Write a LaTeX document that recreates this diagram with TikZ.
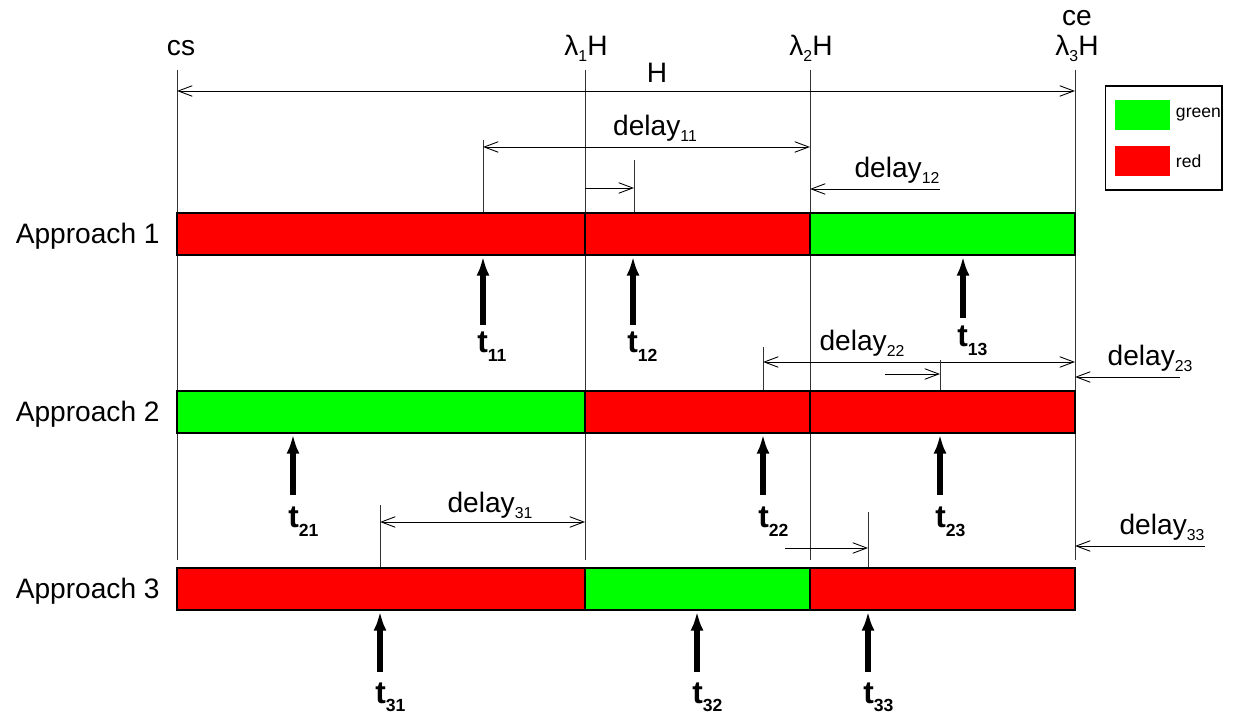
\documentclass[tikz,border=0pt]{standalone}
\usepackage{fontspec}
\setmainfont{Liberation Sans}
\usetikzlibrary{arrows.meta}

\newcommand\lo[1]{\raisebox{-0.22em}{\fontsize{9}{9}\selectfont #1}}
\newcommand\tlo[1]{\raisebox{-0.28em}{\fontsize{10}{10}\selectfont #1}}

\tikzset{
    seg/.style={draw, line width=1.6pt, minimum height=0.84cm, inner sep=0pt},
    guide/.style={line width=0.5pt, black!80},
    dim/.style={line width=0.5pt},
    barb/.tip={Straight Barb[length=8pt, width=6pt]},
    tarrow/.style={line width=3pt, -{Latex[length=11pt, width=7.5pt]}},
    lbl/.style={font=\fontsize{16}{18}\selectfont, inner sep=0pt},
    tlbl/.style={font=\fontsize{18}{20}\selectfont\bfseries, inner sep=0pt, anchor=base west},
    keylbl/.style={font=\fontsize{10}{12}\selectfont, anchor=west, inner sep=0pt},
}

\begin{document}
\begin{tikzpicture}[x=0.02cm, y=-0.02cm]
        \useasboundingbox (0,0) rectangle (1257,715);

        % time marks
        \coordinate (cs) at (177,70);
        \coordinate (l1) at (585,70);
        \coordinate (l2) at (810,70);
        \coordinate (ce) at (1075,70);
        \draw[guide] (cs) -- (cs |- 0,560);
        \draw[guide] (l1) -- (l1 |- 0,560);
        \draw[guide] (l2) -- (l2 |- 0,560);
        \draw[guide] (ce) -- (ce |- 0,560);

        \node[lbl] (cslbl) at (181,48) {cs};
        \node[lbl] (l1lbl) at (586,48) {λ\lo{1}H};
        \node[lbl] (l2lbl) at (811,48) {λ\lo{2}H};
        \node[lbl] (l3lbl) at (1077,48) {λ\lo{3}H};
        \node[lbl] (celbl) at (1077,18) {ce};

        % signal phases
        \node[seg, fill=red, minimum width=8.16cm] (a1s1) at (381,234) {};
        \node[seg, fill=red, minimum width=4.5cm] (a1s2) at (697.5,234) {};
        \node[seg, fill=green, minimum width=5.3cm] (a1s3) at (942.5,234) {};
        \node[seg, fill=green, minimum width=8.16cm] (a2s1) at (381,412) {};
        \node[seg, fill=red, minimum width=4.5cm] (a2s2) at (697.5,412) {};
        \node[seg, fill=red, minimum width=5.3cm] (a2s3) at (942.5,412) {};
        \node[seg, fill=red, minimum width=8.16cm] (a3s1) at (381,589) {};
        \node[seg, fill=green, minimum width=4.5cm] (a3s2) at (697.5,589) {};
        \node[seg, fill=red, minimum width=5.3cm] (a3s3) at (942.5,589) {};

        \node[lbl, anchor=east] (ap1) at (160,236) {Approach 1};
        \node[lbl, anchor=east] (ap2) at (160,414) {Approach 2};
        \node[lbl, anchor=east] (ap3) at (160,591) {Approach 3};

        % arrivals
        \coordinate (t11) at (483,325);
        \coordinate (t12) at (633,325);
        \coordinate (t13) at (963,318);
        \coordinate (t21) at (293,495);
        \coordinate (t22) at (763,495);
        \coordinate (t23) at (940,495);
        \coordinate (t31) at (380,672);
        \coordinate (t32) at (697,672);
        \coordinate (t33) at (868,672);
        \draw[tarrow] (t11) -- (t11 |- a1s1.south);
        \draw[tarrow] (t12) -- (t12 |- a1s2.south);
        \draw[tarrow] (t13) -- (t13 |- a1s3.south);
        \draw[tarrow] (t21) -- (t21 |- a2s1.south);
        \draw[tarrow] (t22) -- (t22 |- a2s2.south);
        \draw[tarrow] (t23) -- (t23 |- a2s3.south);
        \draw[tarrow] (t31) -- (t31 |- a3s1.south);
        \draw[tarrow] (t32) -- (t32 |- a3s2.south);
        \draw[tarrow] (t33) -- (t33 |- a3s3.south);

        \node[tlbl] (t11lbl) at (477,353) {t\tlo{11}};
        \node[tlbl] (t12lbl) at (627,353) {t\tlo{12}};
        \node[tlbl] (t13lbl) at (957,347) {t\tlo{13}};
        \node[tlbl] (t21lbl) at (288,528) {t\tlo{21}};
        \node[tlbl] (t22lbl) at (758,528) {t\tlo{22}};
        \node[tlbl] (t23lbl) at (935,528) {t\tlo{23}};
        \node[tlbl] (t31lbl) at (375,703) {t\tlo{31}};
        \node[tlbl] (t32lbl) at (692,703) {t\tlo{32}};
        \node[tlbl] (t33lbl) at (863,703) {t\tlo{33}};

        % horizon
        \draw[dim, barb-barb] (cs |- 0,91) -- (ce |- 0,91);
        \node[lbl] (hlbl) at (657,73) {H};

        % delays
        \coordinate (d11) at (483,140);
        \draw[guide] (d11) -- (d11 |- a1s1.north);
        \draw[dim, barb-barb] (d11 |- 0,147) -- (l2 |- 0,147);
        \node[lbl] (d11lbl) at (655,128) {delay\lo{11}};
        \coordinate (d11b) at (634,160);
        \draw[guide] (d11b) -- (d11b |- a1s2.north);
        \draw[dim, -barb] (l1 |- 0,188) -- (d11b |- 0,188);

        \coordinate (d12) at (940,189);
        \draw[dim, -barb] (d12) -- (l2 |- d12);
        \node[lbl] (d12lbl) at (897,170) {delay\lo{12}};

        \coordinate (d22) at (763,347);
        \draw[guide] (d22) -- (d22 |- a2s2.north);
        \draw[dim, barb-barb] (d22 |- 0,362) -- (ce |- 0,362);
        \node[lbl] (d22lbl) at (862,343) {delay\lo{22}};
        \coordinate (d22b) at (940,360);
        \draw[guide] (d22b) -- (d22b |- a2s3.north);
        \draw[dim, -barb] (885,374) -- (d22b |- 0,374);

        \coordinate (d23) at (1180,377);
        \draw[dim, -barb] (d23) -- (ce |- d23);
        \node[lbl] (d23lbl) at (1150,358) {delay\lo{23}};

        \coordinate (d31) at (380,505);
        \draw[guide] (d31) -- (d31 |- a3s1.north);
        \draw[dim, barb-barb] (d31 |- 0,522) -- (l1 |- 0,522);
        \node[lbl] (d31lbl) at (490,505) {delay\lo{31}};
        \coordinate (d32) at (868,512);
        \draw[guide] (d32) -- (d32 |- a3s3.north);
        \draw[dim, -barb] (785,548) -- (d32 |- 0,548);

        \coordinate (d33) at (1205,546);
        \draw[dim, -barb] (d33) -- (ce |- d33);
        \node[lbl] (d33lbl) at (1162,527) {delay\lo{33}};

        % legend
        \node[draw, line width=0.6pt, minimum width=2.34cm, minimum height=2.08cm] (legend) at (1163.5,138) {};
        \node[fill=green, minimum width=1.1cm, minimum height=0.6cm, inner sep=0pt] (kgreen) at (1142.5,115) {};
        \node[fill=red, minimum width=1.1cm, minimum height=0.6cm, inner sep=0pt] (kred) at (1142.5,161) {};
        \node[keylbl] (kgreenlbl) at ([xshift=3pt]kgreen.east) {green};
        \node[keylbl] (kredlbl) at ([xshift=3pt]kred.east) {red};
    \end{tikzpicture}
\end{document}
